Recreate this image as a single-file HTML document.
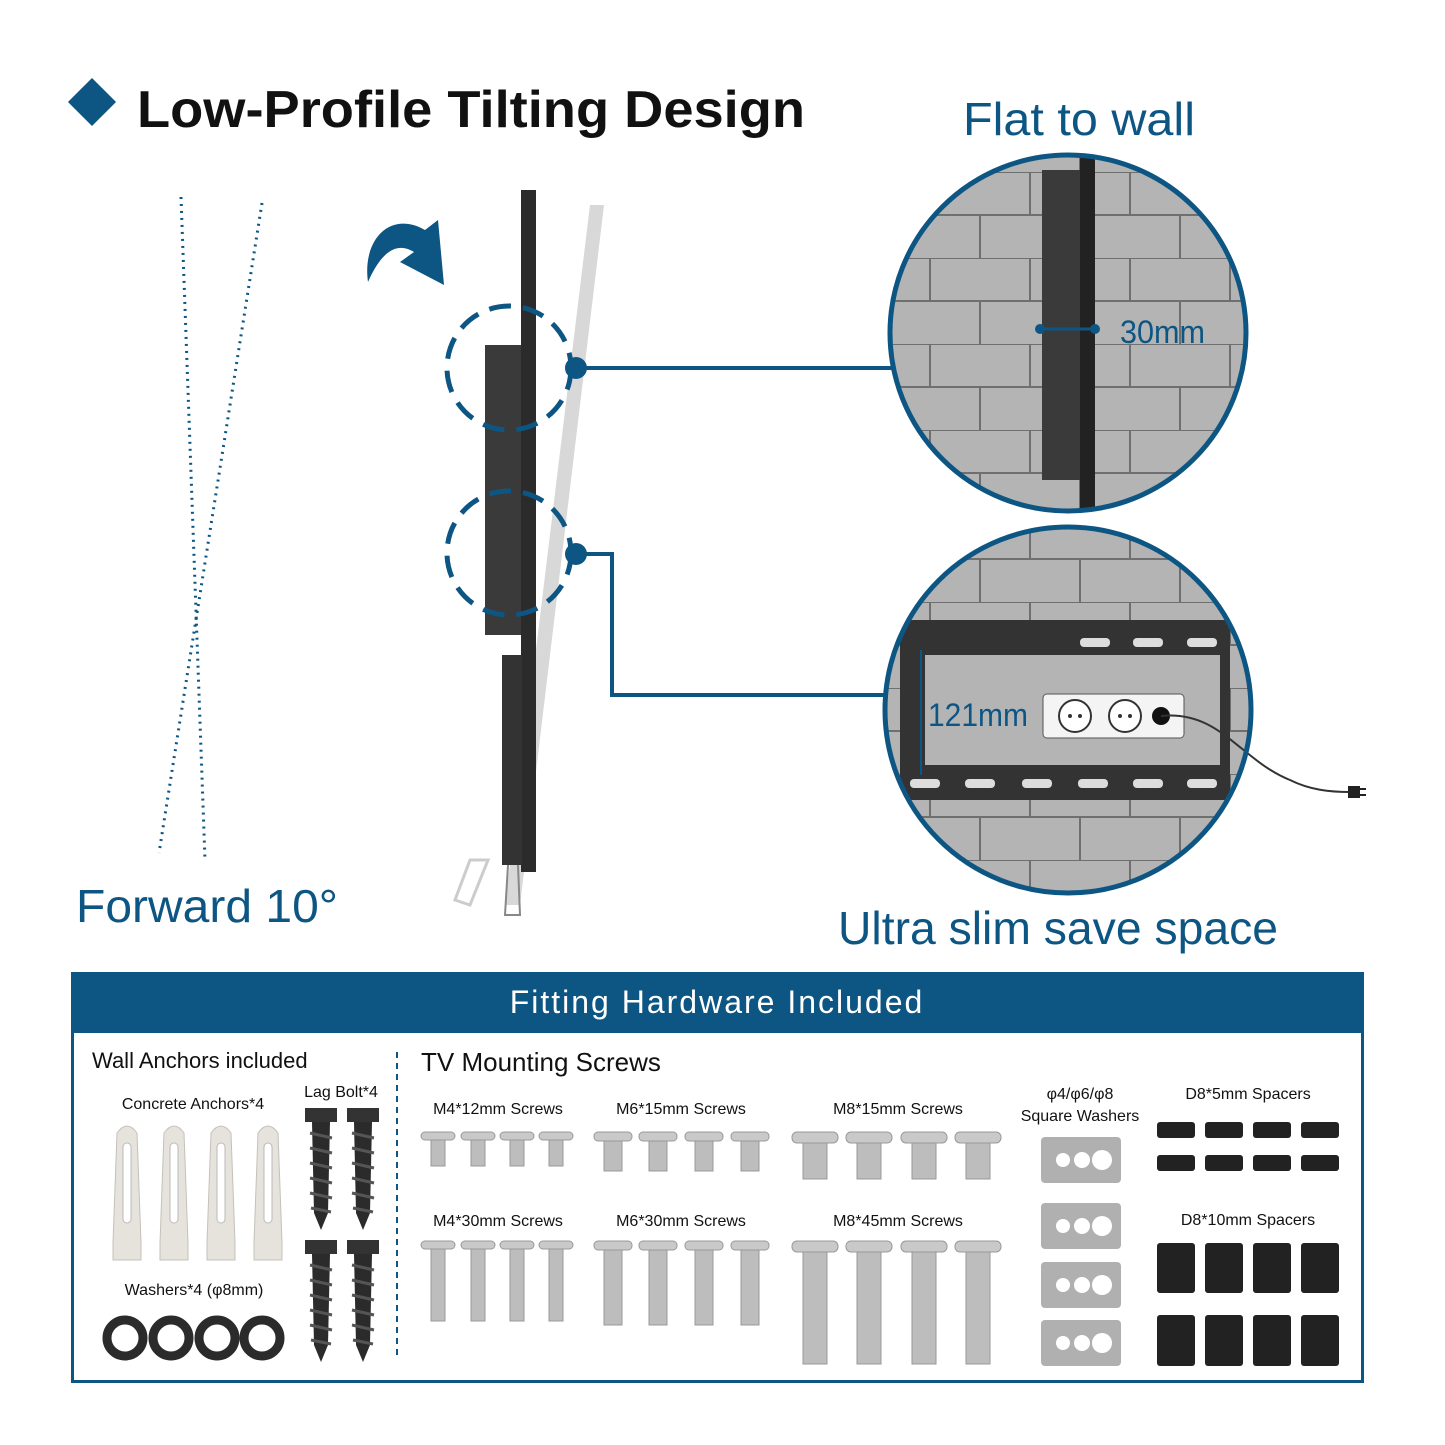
<!DOCTYPE html>
<html><head><meta charset="utf-8"><style>
html,body{margin:0;padding:0;background:#fff}
svg{display:block}
text{font-family:"Liberation Sans",sans-serif}
</style></head><body>
<svg width="1445" height="1445" viewBox="0 0 1445 1445" xmlns="http://www.w3.org/2000/svg">
<defs>
<pattern id="brick" width="100" height="86" patternUnits="userSpaceOnUse" x="0" y="0">
<rect width="100" height="86" fill="#b4b4b4"/>
<path d="M0 0H100M0 43H100M30 0V43M80 43V86" stroke="#6f6f6f" stroke-width="2" fill="none"/>
</pattern>
<clipPath id="c1"><circle cx="1068" cy="333" r="178"/></clipPath>
<clipPath id="c2"><circle cx="1068" cy="710" r="183"/></clipPath>
<g id="s4"><rect x="-17" y="0" width="34" height="8" rx="4" fill="#c9c9c9" stroke="#999"/><rect x="-7" y="8" width="14" height="26" fill="#bdbdbd" stroke="#999"/></g>
<g id="s6"><rect x="-19" y="0" width="38" height="9" rx="4" fill="#c9c9c9" stroke="#999"/><rect x="-9" y="9" width="18" height="30" fill="#bdbdbd" stroke="#999"/></g>
<g id="s8"><rect x="-23" y="0" width="46" height="11" rx="5" fill="#c9c9c9" stroke="#999"/><rect x="-12" y="11" width="24" height="36" fill="#bdbdbd" stroke="#999"/></g>
<g id="l4"><rect x="-17" y="0" width="34" height="8" rx="4" fill="#c9c9c9" stroke="#999"/><rect x="-7" y="8" width="14" height="72" fill="#bdbdbd" stroke="#999"/></g>
<g id="sw"><rect x="0" y="0" width="80" height="46" rx="4" fill="#b0b0b0"/><circle cx="22" cy="23" r="7" fill="#fff"/><circle cx="41" cy="23" r="8" fill="#fff"/><circle cx="61" cy="23" r="10" fill="#fff"/></g>
<g id="anc"><path d="M-10 10 Q0 -4 10 10 L14 120 L14 137 L-14 137 L-14 120 Z" fill="#e6e2dc" stroke="#c4c0ba"/><rect x="-4" y="20" width="8" height="80" rx="4" fill="#fff" stroke="#bbb"/></g>
<g id="lag"><rect x="-16" y="0" width="32" height="14" fill="#333"/><path d="M-9 14 L9 14 L7 105 L0 122 L-7 105 Z" fill="#2b2b2b"/><path d="M-11 25 L11 30 M-11 40 L11 45 M-11 55 L11 60 M-11 70 L11 75 M-11 85 L11 90 M-10 100 L10 104" stroke="#555" stroke-width="3"/></g>
</defs>

<rect x="75" y="85" width="34" height="34" fill="#0d5683" transform="rotate(45 92 102)"/>
<text x="137" y="127" font-size="52" font-weight="bold" fill="#111" textLength="668" lengthAdjust="spacingAndGlyphs">Low-Profile Tilting Design</text>
<text x="963" y="135" font-size="46" fill="#0d5683" textLength="232" lengthAdjust="spacingAndGlyphs">Flat to wall</text>

<line x1="181" y1="197" x2="205" y2="860" stroke="#0d5683" stroke-width="3" stroke-dasharray="2 5"/>
<line x1="262" y1="203" x2="159" y2="853" stroke="#0d5683" stroke-width="3" stroke-dasharray="2 5"/>
<text x="76" y="922" font-size="46" fill="#0d5683" textLength="262" lengthAdjust="spacingAndGlyphs">Forward 10°</text>

<path d="M368 282 C362 240 390 210 425 230 L438 220 L444 285 L400 262 L414 252 C395 240 380 255 368 282 Z" fill="#0d5683"/>

<path d="M590 205 L604 205 L520 905 L505 905 Z" fill="#d8d8d8"/>
<path d="M470 860 L455 900 L470 905 L488 860 Z" fill="none" stroke="#ccc" stroke-width="3"/>
<rect x="521" y="190" width="15" height="682" fill="#2b2b2b"/>
<rect x="485" y="345" width="36" height="290" fill="#3a3a3a"/>
<rect x="502" y="655" width="20" height="210" fill="#333"/>
<path d="M508 865 L505 915 L520 915 L518 865" fill="none" stroke="#888" stroke-width="2"/>

<circle cx="509" cy="368" r="62" fill="none" stroke="#0d5683" stroke-width="5" stroke-dasharray="22 12"/>
<circle cx="509" cy="553" r="62" fill="none" stroke="#0d5683" stroke-width="5" stroke-dasharray="22 12"/>

<circle cx="576" cy="368" r="11" fill="#0d5683"/>
<line x1="576" y1="368" x2="892" y2="368" stroke="#0d5683" stroke-width="4"/>
<circle cx="576" cy="554" r="11" fill="#0d5683"/>
<polyline points="576,554 612,554 612,695 886,695" fill="none" stroke="#0d5683" stroke-width="4"/>

<g clip-path="url(#c1)">
<rect x="880" y="150" width="380" height="370" fill="url(#brick)"/>
<rect x="1042" y="170" width="40" height="310" fill="#3a3a3a"/>
<rect x="1080" y="150" width="15" height="370" fill="#222"/>
<line x1="1040" y1="329" x2="1095" y2="329" stroke="#0d5683" stroke-width="3"/>
<circle cx="1040" cy="329" r="5" fill="#0d5683"/><circle cx="1095" cy="329" r="5" fill="#0d5683"/>
</g>
<circle cx="1068" cy="333" r="178" fill="none" stroke="#0d5683" stroke-width="5"/>
<text x="1120" y="343" font-size="32" fill="#0d5683" textLength="85" lengthAdjust="spacingAndGlyphs">30mm</text>

<g clip-path="url(#c2)">
<rect x="880" y="520" width="380" height="380" fill="url(#brick)"/>
<rect x="900" y="620" width="330" height="180" fill="#333"/>
<rect x="925" y="655" width="295" height="110" fill="#b4b4b4"/>
<g fill="#ddd"><rect x="1080" y="638" width="30" height="9" rx="4"/><rect x="1133" y="638" width="30" height="9" rx="4"/><rect x="1187" y="638" width="30" height="9" rx="4"/>
<rect x="910" y="779" width="30" height="9" rx="4"/><rect x="965" y="779" width="30" height="9" rx="4"/><rect x="1022" y="779" width="30" height="9" rx="4"/><rect x="1078" y="779" width="30" height="9" rx="4"/><rect x="1133" y="779" width="30" height="9" rx="4"/><rect x="1187" y="779" width="30" height="9" rx="4"/></g>
<line x1="921" y1="650" x2="921" y2="775" stroke="#0d5683" stroke-width="2"/>
<rect x="1043" y="694" width="141" height="44" rx="4" fill="#f4f4f4" stroke="#555"/>
<circle cx="1075" cy="716" r="16" fill="#fff" stroke="#333" stroke-width="2"/><circle cx="1125" cy="716" r="16" fill="#fff" stroke="#333" stroke-width="2"/>
<circle cx="1070" cy="716" r="2" fill="#333"/><circle cx="1080" cy="716" r="2" fill="#333"/><circle cx="1120" cy="716" r="2" fill="#333"/><circle cx="1130" cy="716" r="2" fill="#333"/>
<circle cx="1161" cy="716" r="9" fill="#111"/>
</g>
<path d="M1161 716 C1220 710 1240 760 1290 780 C1310 790 1330 792 1350 792" fill="none" stroke="#333" stroke-width="2"/>
<rect x="1348" y="786" width="12" height="12" fill="#222"/><line x1="1360" y1="789" x2="1366" y2="789" stroke="#222" stroke-width="2"/><line x1="1360" y1="795" x2="1366" y2="795" stroke="#222" stroke-width="2"/>
<circle cx="1068" cy="710" r="183" fill="none" stroke="#0d5683" stroke-width="5"/>
<text x="928" y="726" font-size="32" fill="#0d5683" textLength="100" lengthAdjust="spacingAndGlyphs">121mm</text>
<text x="838" y="944" font-size="46" fill="#0d5683" textLength="440" lengthAdjust="spacingAndGlyphs">Ultra slim save space</text>

<rect x="72.5" y="973.5" width="1290" height="408" fill="#fff" stroke="#0d5683" stroke-width="3"/>
<rect x="71" y="972" width="1293" height="61" fill="#0d5683"/>
<text x="717" y="1013" font-size="32" fill="#fff" text-anchor="middle" letter-spacing="2">Fitting Hardware Included</text>

<text x="92" y="1068" font-size="22" fill="#111">Wall Anchors included</text>
<text x="193" y="1109" font-size="16" fill="#111" text-anchor="middle">Concrete Anchors*4</text>
<text x="341" y="1097" font-size="16" fill="#111" text-anchor="middle">Lag Bolt*4</text>
<text x="194" y="1295" font-size="16" fill="#111" text-anchor="middle">Washers*4 (φ8mm)</text>
<use href="#anc" x="127" y="1123"/><use href="#anc" x="174" y="1123"/><use href="#anc" x="221" y="1123"/><use href="#anc" x="268" y="1123"/>
<use href="#lag" x="321" y="1108"/><use href="#lag" x="363" y="1108"/><use href="#lag" x="321" y="1240"/><use href="#lag" x="363" y="1240"/>
<g fill="none" stroke="#2b2b2b" stroke-width="9"><circle cx="125" cy="1338" r="18"/><circle cx="171" cy="1338" r="18"/><circle cx="217" cy="1338" r="18"/><circle cx="262" cy="1338" r="18"/></g>
<line x1="397" y1="1052" x2="397" y2="1360" stroke="#0d5683" stroke-width="2" stroke-dasharray="6 5"/>

<text x="421" y="1071" font-size="26" fill="#111">TV Mounting Screws</text>
<g font-size="16" fill="#111" text-anchor="middle">
<text x="498" y="1114">M4*12mm Screws</text><text x="681" y="1114">M6*15mm Screws</text><text x="898" y="1114">M8*15mm Screws</text>
<text x="498" y="1226">M4*30mm Screws</text><text x="681" y="1226">M6*30mm Screws</text><text x="898" y="1226">M8*45mm Screws</text>
<text x="1080" y="1099">φ4/φ6/φ8</text><text x="1080" y="1121">Square Washers</text>
<text x="1248" y="1099">D8*5mm Spacers</text><text x="1248" y="1225">D8*10mm Spacers</text>
</g>
<use href="#s4" x="438" y="1132"/><use href="#s4" x="478" y="1132"/><use href="#s4" x="517" y="1132"/><use href="#s4" x="556" y="1132"/>
<use href="#s6" x="613" y="1132"/><use href="#s6" x="658" y="1132"/><use href="#s6" x="704" y="1132"/><use href="#s6" x="750" y="1132"/>
<use href="#s8" x="815" y="1132"/><use href="#s8" x="869" y="1132"/><use href="#s8" x="924" y="1132"/><use href="#s8" x="978" y="1132"/>
<use href="#l4" x="438" y="1241"/><use href="#l4" x="478" y="1241"/><use href="#l4" x="517" y="1241"/><use href="#l4" x="556" y="1241"/>
<g id="l6t"><rect x="594" y="1241" width="38" height="9" rx="4" fill="#c9c9c9" stroke="#999"/><rect x="604" y="1250" width="18" height="75" fill="#bdbdbd" stroke="#999"/></g>
<use href="#l6t" x="45"/><use href="#l6t" x="91"/><use href="#l6t" x="137"/>
<g id="l8t"><rect x="792" y="1241" width="46" height="11" rx="5" fill="#c9c9c9" stroke="#999"/><rect x="803" y="1252" width="24" height="112" fill="#bdbdbd" stroke="#999"/></g>
<use href="#l8t" x="54"/><use href="#l8t" x="109"/><use href="#l8t" x="163"/>

<use href="#sw" x="1041" y="1137"/><use href="#sw" x="1041" y="1203"/><use href="#sw" x="1041" y="1262"/><use href="#sw" x="1041" y="1320"/>
<g fill="#222">
<rect x="1157" y="1122" width="38" height="16" rx="3"/><rect x="1205" y="1122" width="38" height="16" rx="3"/><rect x="1253" y="1122" width="38" height="16" rx="3"/><rect x="1301" y="1122" width="38" height="16" rx="3"/>
<rect x="1157" y="1155" width="38" height="16" rx="3"/><rect x="1205" y="1155" width="38" height="16" rx="3"/><rect x="1253" y="1155" width="38" height="16" rx="3"/><rect x="1301" y="1155" width="38" height="16" rx="3"/>
<rect x="1157" y="1243" width="38" height="50" rx="3"/><rect x="1205" y="1243" width="38" height="50" rx="3"/><rect x="1253" y="1243" width="38" height="50" rx="3"/><rect x="1301" y="1243" width="38" height="50" rx="3"/>
<rect x="1157" y="1315" width="38" height="51" rx="3"/><rect x="1205" y="1315" width="38" height="51" rx="3"/><rect x="1253" y="1315" width="38" height="51" rx="3"/><rect x="1301" y="1315" width="38" height="51" rx="3"/>
</g>
</svg>
</body></html>
